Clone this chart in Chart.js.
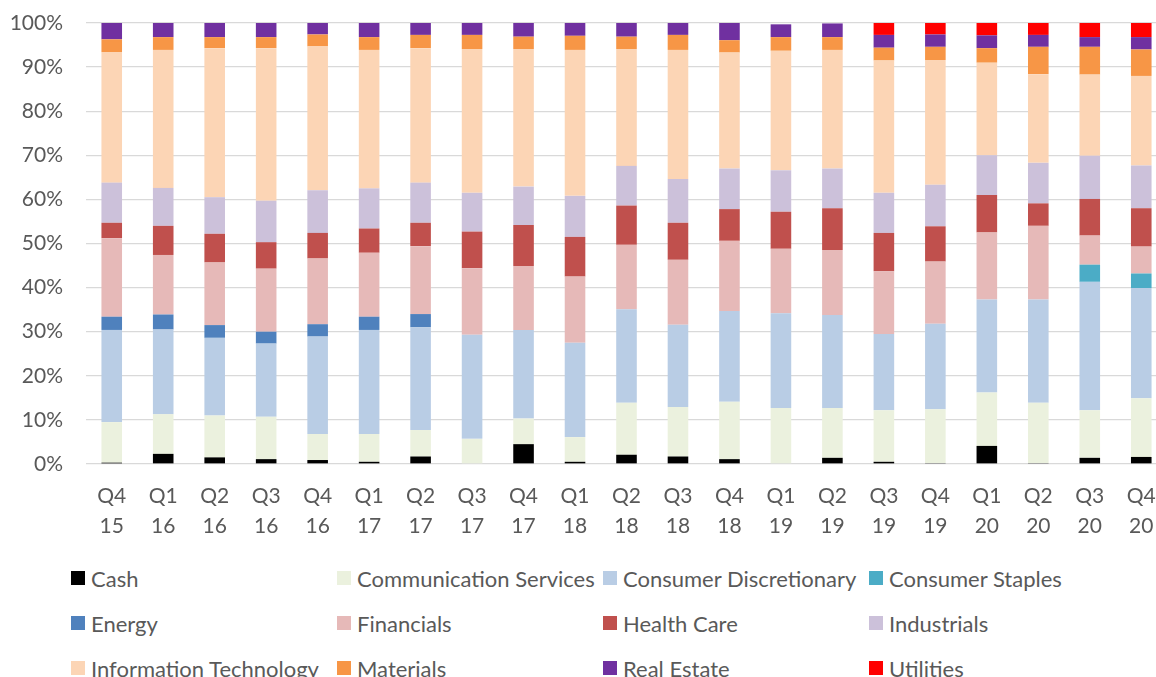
<!DOCTYPE html>
<html>
<head>
<meta charset="utf-8">
<script src="https://cdn.jsdelivr.net/npm/chart.js@4.4.1/dist/chart.umd.min.js"></script>
<style>
  html, body { margin: 0; padding: 0; background: #fff; overflow: hidden; }
  #wrap { position: relative; width: 1156px; height: 677px; overflow: hidden; }
  #chart { position: absolute; left: 0; top: 0; }
  #legend { position: absolute; left: 71px; top: 564px; display: grid;
    grid-template-columns: 266px 266px 266px 266px; grid-auto-rows: 45px;
    font-family: Lato, "Open Sans", sans-serif; font-size: 22px; color: #595959; }
  .item { display: flex; align-items: center; height: 28px; white-space: nowrap; }
  .box { width: 14px; height: 14px; margin-right: 6px; flex: none; }
</style>
</head>
<body>
<div id="wrap">
  <canvas id="chart" width="1167" height="548"></canvas>
  <div id="legend"></div>
</div>
<script>
const quarters = [
  ['Q4', '15'], ['Q1', '16'], ['Q2', '16'], ['Q3', '16'], ['Q4', '16'],
  ['Q1', '17'], ['Q2', '17'], ['Q3', '17'], ['Q4', '17'],
  ['Q1', '18'], ['Q2', '18'], ['Q3', '18'], ['Q4', '18'],
  ['Q1', '19'], ['Q2', '19'], ['Q3', '19'], ['Q4', '19'],
  ['Q1', '20'], ['Q2', '20'], ['Q3', '20'], ['Q4', '20']
];

const cash = [0.3, 2.3, 1.5, 1.1, 0.9, 0.5, 1.7, 0, 4.5, 0.5, 2.1, 1.7, 1.1, -0.3, 1.4, 0.5, 0.2, 4.1, 0.2, 1.4, 1.6];
const commServices = [9.2, 9.0, 9.5, 9.6, 5.9, 6.3, 6.0, 5.7, 5.8, 5.6, 11.8, 11.2, 13.0, 12.7, 11.3, 11.7, 12.2, 12.1, 13.7, 10.8, 13.3];
const consDiscretionary = [20.9, 19.2, 17.6, 16.6, 22.1, 23.6, 23.3, 23.6, 20.1, 21.4, 21.2, 18.7, 20.6, 21.5, 21.1, 17.3, 19.4, 21.1, 23.4, 29.1, 25.0];
const consStaples = [0, 0, 0, 0, 0, 0, 0, 0, 0, 0, 0, 0, 0, 0, 0, 0, 0, 0, 0, 3.9, 3.3];
const energy = [3.0, 3.4, 2.9, 2.7, 2.8, 3.0, 3.0, 0, 0, 0, 0, 0, 0, 0, 0, 0, 0, 0, 0, 0, 0];
const financials = [17.8, 13.5, 14.2, 14.3, 14.9, 14.5, 15.4, 15.1, 14.5, 15.0, 14.6, 14.7, 15.9, 14.6, 14.7, 14.2, 14.1, 15.2, 16.7, 6.6, 6.1];
const healthCare = [3.5, 6.6, 6.5, 6.0, 5.8, 5.5, 5.3, 8.3, 9.3, 9.0, 8.9, 8.4, 7.2, 8.4, 9.5, 8.7, 8.0, 8.5, 5.1, 8.3, 8.7];
const industrials = [9.1, 8.6, 8.3, 9.4, 9.7, 9.1, 9.1, 8.8, 8.7, 9.3, 9.0, 9.9, 9.2, 9.4, 9.0, 9.1, 9.4, 9.0, 9.2, 9.8, 9.7];
const infoTech = [29.6, 31.3, 33.8, 34.6, 32.6, 31.4, 30.5, 32.6, 31.2, 33.1, 26.5, 29.3, 26.3, 27.1, 26.9, 30.0, 28.3, 21.0, 20.1, 18.4, 20.3];
const materials = [2.9, 2.9, 2.5, 2.5, 2.7, 2.9, 3.0, 3.2, 2.8, 3.2, 2.8, 3.4, 2.8, 3.1, 2.9, 2.9, 3.0, 3.3, 6.2, 6.3, 6.0];
const realEstate = [3.7, 3.2, 3.2, 3.2, 2.6, 3.2, 2.7, 2.7, 3.1, 2.9, 3.1, 2.7, 3.9, 2.9, 3.1, 2.9, 2.8, 2.9, 2.7, 2.2, 2.8];
const utilities = [0, 0, 0, 0, 0, 0, 0, 0, 0, 0, 0, 0, 0, 0, 0, 2.7, 2.6, 2.8, 2.7, 3.2, 3.2];

const yTicks = [0, 10, 20, 30, 40, 50, 60, 70, 80, 90, 100];

const series = [
  { name: 'Cash', data: cash, color: '#000000' },
  { name: 'Communication Services', data: commServices, color: '#EBF1DE' },
  { name: 'Consumer Discretionary', data: consDiscretionary, color: '#B9CDE5' },
  { name: 'Consumer Staples', data: consStaples, color: '#4BACC6' },
  { name: 'Energy', data: energy, color: '#4F81BD' },
  { name: 'Financials', data: financials, color: '#E6B9B8' },
  { name: 'Health Care', data: healthCare, color: '#C0504D' },
  { name: 'Industrials', data: industrials, color: '#CCC1DA' },
  { name: 'Information Technology', data: infoTech, color: '#FCD5B5' },
  { name: 'Materials', data: materials, color: '#F79646' },
  { name: 'Real Estate', data: realEstate, color: '#7030A0' },
  { name: 'Utilities', data: utilities, color: '#FF0000' }
];

const font = { family: 'Lato, "Open Sans", sans-serif', size: 21 };

new Chart(document.getElementById('chart'), {
  type: 'bar',
  data: {
    labels: quarters,
    datasets: series.map(s => ({
      label: s.name,
      data: s.data,
      backgroundColor: s.color,
      borderWidth: 0,
      barPercentage: 0.4,
      categoryPercentage: 1.0
    }))
  },
  options: {
    responsive: false,
    animation: false,
    devicePixelRatio: 1,
    layout: { padding: { top: 23, right: 0, bottom: 0, left: 0 } },
    plugins: { legend: { display: false }, tooltip: { enabled: false } },
    scales: {
      x: {
        stacked: true,
        grid: { display: false, drawTicks: false },
        border: { display: false },
        ticks: { color: '#595959', font: { ...font, lineHeight: 1.4 }, padding: 18, maxRotation: 0, autoSkip: false },
        afterFit: s => { s.height = 84; s.paddingLeft = 0; s.paddingRight = 0; }
      },
      y: {
        stacked: true,
        min: 0,
        max: 100,
        afterBuildTicks: s => { s.ticks = yTicks.map(v => ({ value: v })); },
        grid: { color: '#d9d9d9', lineWidth: 1.3, drawTicks: false },
        border: { display: false },
        ticks: { color: '#595959', font, padding: 23, callback: v => v + '%' },
        afterFit: s => { s.width = 86; s.paddingTop = 0; s.paddingBottom = 0; }
      }
    }
  }
});

const legend = document.getElementById('legend');
series.forEach(s => {
  const item = document.createElement('div');
  item.className = 'item';
  item.innerHTML = `<span class="box" style="background:${s.color}"></span><span>${s.name}</span>`;
  legend.appendChild(item);
});
</script>
</body>
</html>
